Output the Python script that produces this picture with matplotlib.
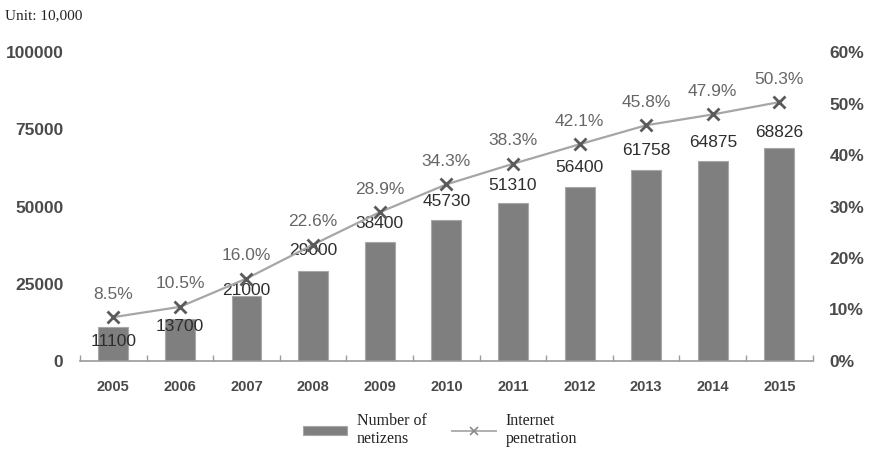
import numpy as np
import matplotlib
matplotlib.use("Agg")
import matplotlib.pyplot as plt
from matplotlib.ticker import FixedLocator
from matplotlib.lines import Line2D

years = ["2005", "2006", "2007", "2008", "2009", "2010",
         "2011", "2012", "2013", "2014", "2015"]
netizens = [11100, 13700, 21000, 29000, 38400, 45730,
            51310, 56400, 61758, 64875, 68826]
penetration = [8.5, 10.5, 16.0, 22.6, 28.9, 34.3,
               38.3, 42.1, 45.8, 47.9, 50.3]

# vertical nudge (pixels) for each bar label so it clears the line
bar_label_dy = [-15, -8, 6, 21, 19, 18, 17, 19, 20, 18, 16]

plt.rcParams["font.family"] = ["Liberation Sans", "DejaVu Sans"]

fig = plt.figure(figsize=(8.72, 4.5), dpi=100)
ax = fig.add_axes([0.0917, 0.198, 0.8403, 0.686])
ax2 = ax.twinx()

x = np.arange(len(years))
bars = ax.bar(x, netizens, width=0.45, color="#7f7f7f",
              edgecolor="#a8a8a8", linewidth=0.8, zorder=2)

ax.set_xlim(-0.5, len(years) - 0.5)
ax.set_ylim(0, 100000)
ax.set_yticks([0, 25000, 50000, 75000, 100000])
ax.set_xticks(x)
ax.set_xticklabels(years)
ax.xaxis.set_minor_locator(FixedLocator(np.arange(-0.5, len(years), 1)))

for s in ["top", "left", "right"]:
    ax.spines[s].set_visible(False)
    ax2.spines[s].set_visible(False)
ax2.spines["bottom"].set_visible(False)
ax.spines["bottom"].set_color("#9a9a9a")
ax.spines["bottom"].set_linewidth(1.2)

ax.tick_params(axis="x", which="major", length=0, pad=14,
               labelsize=10.5, labelcolor="#4a4a4a")
ax.tick_params(axis="x", which="minor", direction="in", length=4,
               color="#9a9a9a", width=1.0)
ax.tick_params(axis="y", length=0, pad=12, labelsize=12.5,
               labelcolor="#4a4a4a")

ax2.set_ylim(0, 60)
ax2.set_yticks([0, 10, 20, 30, 40, 50, 60])
ax2.set_yticklabels([f"{v}%" for v in [0, 10, 20, 30, 40, 50, 60]])
ax2.tick_params(axis="y", length=0, pad=12, labelsize=12.5,
                labelcolor="#4a4a4a")

for lbl in ax.get_xticklabels() + ax.get_yticklabels() + ax2.get_yticklabels():
    lbl.set_fontweight("bold")

line, = ax2.plot(x, penetration, color="#a6a6a6", linewidth=1.6,
                 marker="x", markersize=8, markeredgewidth=2,
                 markeredgecolor="#5a5a5a", zorder=3)

for xi, v, dy in zip(x, netizens, bar_label_dy):
    ax.annotate(f"{v}", (xi, v), xytext=(0, dy), textcoords="offset pixels",
                ha="center", va="center", fontsize=12.5, color="#2e2e2e",
                zorder=5)

for xi, p in zip(x, penetration):
    ax2.annotate(f"{p:.1f}%", (xi, p), xytext=(0, 23),
                 textcoords="offset pixels", ha="center", va="center",
                 fontsize=12.5, color="#666666", zorder=5)

fig.text(0.006, 0.965, "Unit: 10,000", family="Liberation Serif",
         fontsize=11, color="#222222", va="center")

line_key = Line2D([], [], color="#b0b0b0", linewidth=1.4, marker="x",
                  markersize=6, markeredgewidth=1.2, markeredgecolor="#8a8a8a")
leg = fig.legend([bars, line_key], ["Number of\nnetizens", "Internet\npenetration"],
                 loc="center", bbox_to_anchor=(0.505, 0.045), ncol=2,
                 frameon=False, handlelength=2.75, handleheight=0.5,
                 columnspacing=1.6, handletextpad=0.6,
                 prop={"family": "Liberation Serif", "size": 11.5})
for t in leg.get_texts():
    t.set_color("#222222")

fig.savefig("out.png", dpi=100)
